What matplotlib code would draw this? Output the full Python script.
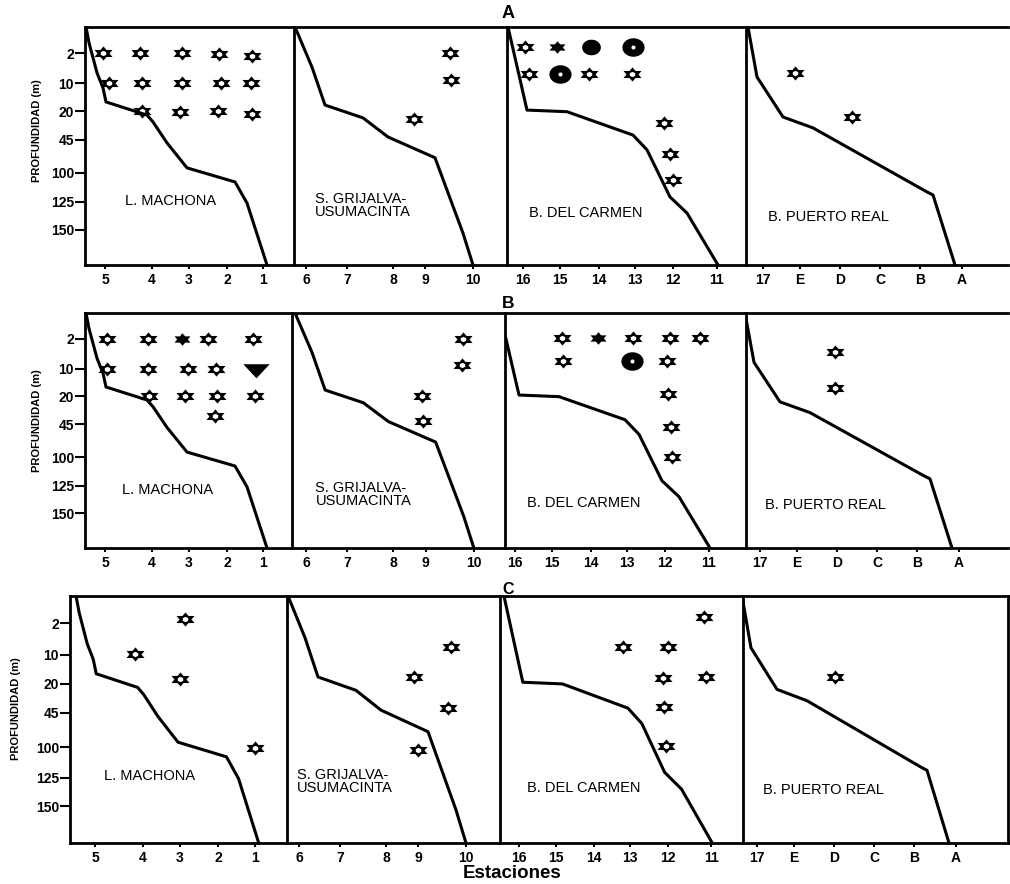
import numpy as np
import matplotlib
matplotlib.use("Agg")
import matplotlib.pyplot as plt
from matplotlib.path import Path
from matplotlib.ticker import NullLocator

plt.rcParams['font.family'] = ['Liberation Sans', 'DejaVu Sans']

# depth axis (m), drawn on a stretched scale like the original
depth_ticks = [2, 10, 20, 45, 100, 125, 150]
depth_knots = [0, 2, 10, 20, 45, 100, 125, 150, 175]
frac_knots = [0, 0.11, 0.237, 0.355, 0.473, 0.613, 0.735, 0.852, 1.0]

# stations: labels and distance along each transect
machona_st = ['5', '4', '3', '2', '1']
machona_d = [2.0, 6.7, 10.4, 14.2, 17.8]
grijalva_st = ['6', '7', '8', '9', '10']
grijalva_d = [1.2, 5.3, 9.9, 13.1, 17.9]
carmen_st = ['16', '15', '14', '13', '12', '11']
carmen_d = [1.6, 5.3, 9.2, 12.8, 16.6, 21.0]
real_st = ['17', 'E', 'D', 'C', 'B', 'A']
real_d = [1.7, 5.4, 9.4, 13.4, 17.4, 21.6]

# bottom profiles (distance, depth)
machona_bx = [0.1, 0.4, 1.2, 1.8, 2.1, 6.2, 6.8, 8.2, 10.2, 15.0, 16.2, 18.2]
machona_bz = [0, 1.2, 7.2, 11.6, 16.6, 23.2, 29.3, 50.5, 91.7, 107.8, 126, 175]
grijalva_bx = [0.1, 1.8, 3.1, 6.9, 9.4, 14.1, 16.9, 17.9]
grijalva_bz = [0, 5.7, 17.7, 25.7, 42.7, 75, 152.4, 175]
carmen_bx = [0.1, 2.0, 6.0, 12.6, 14.0, 16.3, 18.0, 21.1]
carmen_bz = [0, 19.5, 20.2, 41, 62, 120.7, 135, 175]
real_bx = [0.2, 1.1, 3.7, 6.7, 18.1, 18.7, 20.9]
real_bz = [0, 8.3, 24.9, 34.6, 116.4, 119, 175]

panel_names = ['L. MACHONA', 'S. GRIJALVA-\nUSUMACINTA', 'B. DEL CARMEN', 'B. PUERTO REAL']

# records (distance, depth, kind) for each period
A_machona = [(1.8, 2, 'star'), (5.5, 2, 'star'), (9.7, 2, 'star'), (13.4, 2.3, 'star'), (16.7, 2.8, 'star'),
             (2.4, 10, 'star'), (5.7, 10, 'star'), (9.7, 10, 'star'), (13.6, 10, 'star'), (16.6, 10, 'star'),
             (5.7, 20, 'star'), (9.5, 20.5, 'star'), (13.3, 20, 'star'), (16.7, 22, 'star')]
A_grijalva = [(15.6, 2, 'star'), (15.7, 9, 'star'), (12.0, 27, 'star')]
A_carmen = [(1.8, 1.5, 'star'), (5.0, 1.5, 'fstar'), (8.4, 1.5, 'dot'), (12.6, 1.5, 'ring'),
            (2.2, 7.5, 'star'), (5.3, 7.5, 'ring'), (8.2, 7.5, 'star'), (12.5, 7.5, 'star'),
            (15.7, 30, 'star'), (16.3, 69, 'star'), (16.6, 106, 'star')]
A_real = [(4.9, 7.2, 'star'), (10.6, 25, 'star')]

B_machona = [(2.2, 2, 'star'), (6.3, 2, 'star'), (9.7, 2, 'fstar'), (12.3, 2, 'star'), (16.8, 2, 'star'),
             (2.2, 10, 'star'), (6.3, 10, 'star'), (10.3, 10, 'star'), (13.1, 10, 'star'), (17.1, 10, 'tri'),
             (6.4, 20, 'star'), (10.0, 20, 'star'), (13.2, 20, 'star'), (17.0, 20, 'star'),
             (13.0, 38, 'star')]
B_grijalva = [(16.8, 2, 'star'), (16.7, 9, 'star'), (12.7, 20, 'star'), (12.8, 42, 'star')]
B_carmen = [(6.3, 1.9, 'star'), (9.9, 1.9, 'fstar'), (13.4, 1.9, 'star'), (17.1, 1.9, 'star'), (20.1, 1.9, 'star'),
            (6.4, 7.9, 'star'), (13.3, 7.9, 'ring'), (16.8, 7.9, 'star'),
            (16.9, 19.2, 'star'), (17.2, 49.7, 'star'), (17.3, 100, 'star')]
B_real = [(9.2, 5.5, 'star'), (9.2, 17, 'star')]

C_machona = [(10.9, 1.7, 'star'), (5.9, 9.9, 'star'), (10.4, 18.4, 'star'), (17.8, 100.5, 'star')]
C_grijalva = [(16.4, 8, 'star'), (12.7, 17.7, 'star'), (16.1, 40.8, 'star'), (13.1, 102, 'star')]
C_carmen = [(20.3, 1.55, 'star'), (12.1, 8, 'star'), (16.6, 8, 'star'), (16.1, 18, 'star'),
            (20.5, 17.7, 'star'), (16.2, 40, 'star'), (16.4, 97.6, 'star')]
C_real = [(9.5, 17.7, 'star')]


def fwd(z):
    return np.interp(z, depth_knots, frac_knots)


def inv(f):
    return np.interp(f, frac_knots, depth_knots)


def hexagram(hole):
    ao = np.deg2rad(90 + 60 * np.arange(6))
    ai = ao + np.deg2rad(30)
    ri = 1 / np.sqrt(3)
    pts = []
    for a, b in zip(ao, ai):
        pts.append((np.cos(a), 0.68 * np.sin(a)))
        pts.append((ri * np.cos(b), 0.68 * ri * np.sin(b)))
    verts = pts + [pts[0]]
    codes = [Path.MOVETO] + [Path.LINETO] * 11 + [Path.CLOSEPOLY]
    if hole:
        h = [(0.3 * np.cos(a), 0.3 * 0.85 * np.sin(a)) for a in np.deg2rad(90 - 60 * np.arange(6))]
        verts += h + [h[0]]
        codes += [Path.MOVETO] + [Path.LINETO] * 5 + [Path.CLOSEPOLY]
    return Path(verts, codes)


def ellipse(hole):
    t = np.linspace(0, 2 * np.pi, 41)
    verts = list(zip(1.2 * np.cos(t), np.sin(t)))
    codes = [Path.MOVETO] + [Path.LINETO] * 39 + [Path.CLOSEPOLY]
    if hole:
        verts += list(zip(0.22 * np.cos(-t), 0.22 * np.sin(-t)))
        codes += [Path.MOVETO] + [Path.LINETO] * 39 + [Path.CLOSEPOLY]
    return Path(verts, codes)


tri_down = Path([(-1.5, 0.6), (1.5, 0.6), (0, -1.0), (-1.5, 0.6)],
                [Path.MOVETO, Path.LINETO, Path.LINETO, Path.CLOSEPOLY])

marker_style = {
    'star': (hexagram(True), 13),
    'fstar': (hexagram(False), 11.5),
    'dot': (ellipse(False), 13.5),
    'ring': (ellipse(True), 16),
    'tri': (tri_down, 19),
}

W, H = 1010, 884
fig = plt.figure(figsize=(W / 100, H / 100), dpi=100)

rows = [
    dict(title='A', top=27, bot=265, edges=[85, 294, 507, 746, 1008],
         xlims=[(0, 20.9), (0, 21.3), (0, 23.9), (0, 26.2)],
         recs=[A_machona, A_grijalva, A_carmen, A_real], tsize=13, ty=14, ylab=(37, 131),
         names=[(0.41, 0.27, 'center'), (0.10, 0.25, 'left'), (0.09, 0.22, 'left'), (0.084, 0.20, 'left')]),
    dict(title='B', top=313, bot=548, edges=[85, 292, 505, 746, 1008],
         xlims=[(0, 20.7), (-0.2, 21.0), (0.6, 24.7), (0.3, 26.5)],
         recs=[B_machona, B_grijalva, B_carmen, B_real], tsize=12.5, ty=303, ylab=(37, 421),
         names=[(0.40, 0.247, 'center'), (0.11, 0.226, 'left'), (0.09, 0.19, 'left'), (0.073, 0.183, 'left')]),
    dict(title='C', top=596, bot=843, edges=[70, 287, 500, 743, 1008],
         xlims=[(-0.5, 21.0), (0, 21.3), (-0.3, 24.2), (0.3, 26.8)],
         recs=[C_machona, C_grijalva, C_carmen, C_real], tsize=11.5, ty=589, ylab=(16, 709),
         names=[(0.365, 0.27, 'center'), (0.047, 0.25, 'left'), (0.11, 0.223, 'left'), (0.075, 0.215, 'left')]),
]

stations = [(machona_st, machona_d), (grijalva_st, grijalva_d), (carmen_st, carmen_d), (real_st, real_d)]
profiles = [(machona_bx, machona_bz), (grijalva_bx, grijalva_bz), (carmen_bx, carmen_bz), (real_bx, real_bz)]

for r, row in enumerate(rows):
    e = row['edges']
    for p in range(4):
        ax = fig.add_axes([e[p] / W, 1 - row['bot'] / H, (e[p + 1] - e[p]) / W, (row['bot'] - row['top']) / H])
        ax.set_yscale('function', functions=(fwd, inv))
        ax.set_ylim(175, 0)
        ax.set_xlim(*row['xlims'][p])
        ax.yaxis.set_minor_locator(NullLocator())
        ax.xaxis.set_minor_locator(NullLocator())

        bx, bz = profiles[p]
        ax.plot(bx, bz, color='k', lw=2.2, zorder=2)

        for kind in marker_style:
            pts = [(x, z) for x, z, k in row['recs'][p] if k == kind]
            if not pts:
                continue
            path, ms = marker_style[kind]
            ax.plot([q[0] for q in pts], [q[1] for q in pts], linestyle='none', marker=path,
                    markersize=ms, color='k', markeredgewidth=0, zorder=3)

        st, d = stations[p]
        ax.set_xticks(d)
        ax.set_xticklabels(st, fontweight='bold', fontsize=10)
        ax.tick_params(axis='x', length=3, width=1.5, pad=3, direction='out')
        if p == 0:
            ax.set_yticks(depth_ticks)
            ax.set_yticklabels([str(t) for t in depth_ticks], fontweight='bold', fontsize=10)
            ax.tick_params(axis='y', length=7, width=1.5, pad=1, direction='out')
        else:
            ax.set_yticks([])

        for s in ['top', 'left', 'bottom', 'right']:
            ax.spines[s].set_linewidth(2)
        if not (r == 2 and p == 3):
            ax.spines['right'].set_visible(False)

        nx, ny, ha = row['names'][p]
        ax.text(nx, ny, panel_names[p], transform=ax.transAxes, ha=ha, va='center',
                fontsize=10.5, linespacing=0.9)

    fig.text(508 / W, 1 - row['ty'] / H, row['title'], ha='center', va='center',
             fontsize=row['tsize'], fontweight='bold')
    fig.text(row['ylab'][0] / W, 1 - row['ylab'][1] / H, 'PROFUNDIDAD (m)', rotation=90,
             ha='center', va='center', fontsize=8, fontweight='bold')

fig.text(512 / W, 1 - 874 / H, 'Estaciones', ha='center', va='center', fontsize=13.5, fontweight='bold')

fig.savefig('out.png', dpi=100)
